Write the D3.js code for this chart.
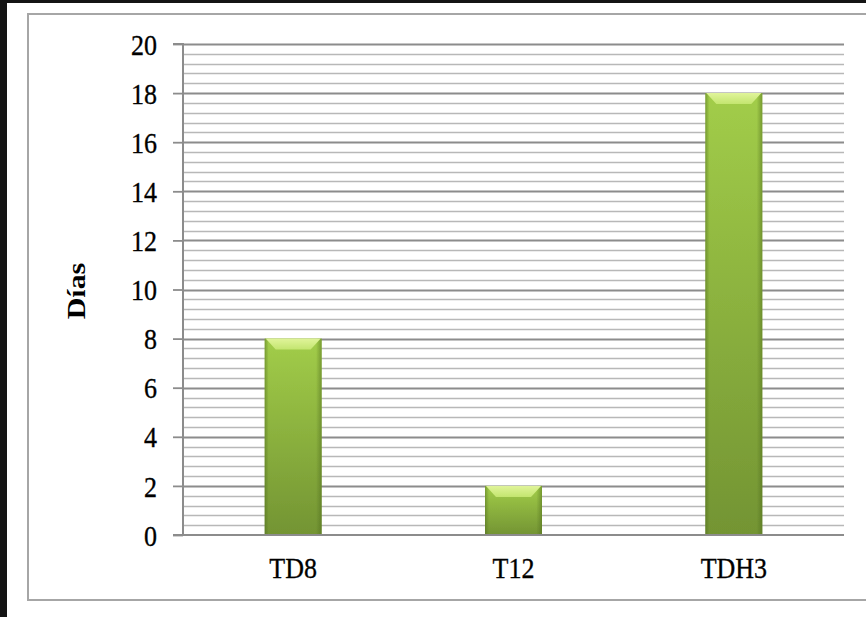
<!DOCTYPE html>
<html>
<head>
<meta charset="utf-8">
<script src="https://cdn.jsdelivr.net/npm/d3@7"></script>
<style>
  html, body { margin: 0; padding: 0; background: #141414; }
  svg { display: block; }
  text { font-family: "Liberation Serif", "Times New Roman", serif; fill: #000; }
</style>
</head>
<body>
<svg id="chart" width="866" height="617"></svg>
<script>
// Days per treatment
const categories = ["TD8", "T12", "TDH3"];
const values = [8, 2, 18];
const yTicks = [0, 2, 4, 6, 8, 10, 12, 14, 16, 18, 20];
const yLabel = "Días";

const W = 866, H = 617;
const plot = { left: 183, right: 844, top: 44, bottom: 535 };
const textStretch = 1.15;

const svg = d3.select("#chart");

// white page and chart frame
svg.append("rect").attr("x", 7).attr("y", 3).attr("width", W - 7).attr("height", H - 3).attr("fill", "#fff");
svg.append("rect").attr("x", 28).attr("y", 14).attr("width", W + 20).attr("height", 586)
  .attr("fill", "none").attr("stroke", "#a6a6a6").attr("stroke-width", 2);

const y = d3.scaleLinear().domain([0, 20]).range([plot.bottom, plot.top]);
const x = d3.scaleBand().domain(categories).range([plot.left, plot.right]).padding(0);
const barW = 57;

const defs = svg.append("defs");
const soft = defs.append("filter").attr("id", "soft").attr("x", "-5%").attr("y", "-5%").attr("width", "110%").attr("height", "110%");
soft.append("feGaussianBlur").attr("stdDeviation", 0.6);

const vg = defs.append("linearGradient").attr("id", "barBody").attr("x1", 0).attr("y1", 0).attr("x2", 0).attr("y2", 1);
vg.append("stop").attr("offset", "0%").attr("stop-color", "#a2cd49");
vg.append("stop").attr("offset", "100%").attr("stop-color", "#739433");

const hg = defs.append("linearGradient").attr("id", "barSides").attr("x1", 0).attr("y1", 0).attr("x2", 1).attr("y2", 0);
hg.append("stop").attr("offset", "0%").attr("stop-color", "#4d6a1c").attr("stop-opacity", 0.5);
hg.append("stop").attr("offset", "7%").attr("stop-color", "#4d6a1c").attr("stop-opacity", 0.0);
hg.append("stop").attr("offset", "90%").attr("stop-color", "#4d6a1c").attr("stop-opacity", 0.0);
hg.append("stop").attr("offset", "100%").attr("stop-color", "#4d6a1c").attr("stop-opacity", 0.5);

const bevelG = defs.append("linearGradient").attr("id", "bevel").attr("x1", 0).attr("y1", 0).attr("x2", 0).attr("y2", 1);
bevelG.append("stop").attr("offset", "0%").attr("stop-color", "#e0f49a");
bevelG.append("stop").attr("offset", "100%").attr("stop-color", "#c3e56f");

// gridlines: minor every 0.4, major every 2
const minor = d3.range(0, 20.0001, 0.4).filter(v => Math.abs(v / 2 - Math.round(v / 2)) > 1e-6);
const grid = svg.append("g").attr("filter", "url(#soft)");
grid.selectAll("line.minor").data(minor).join("line")
  .attr("class", "minor")
  .attr("x1", plot.left).attr("x2", plot.right)
  .attr("y1", d => Math.round(y(d)) + 0.5).attr("y2", d => Math.round(y(d)) + 0.5)
  .attr("stroke", "#b8b8b8").attr("stroke-width", 1.6);
grid.selectAll("line.major").data(yTicks.filter(d => d > 0)).join("line")
  .attr("class", "major")
  .attr("x1", plot.left).attr("x2", plot.right)
  .attr("y1", d => Math.round(y(d)) + 0.5).attr("y2", d => Math.round(y(d)) + 0.5)
  .attr("stroke", "#8c8c8c").attr("stroke-width", 1.8);

// bars with a bevelled top
const bars = svg.append("g").selectAll("g").data(categories.map((c, i) => ({ c, v: values[i] }))).join("g")
  .attr("filter", "url(#soft)");
bars.each(function (d) {
  const g = d3.select(this);
  const x0 = x(d.c) + x.bandwidth() / 2 - barW / 2;
  const x1 = x0 + barW;
  const top = y(d.v), bot = y(0);
  g.append("rect").attr("x", x0).attr("y", top).attr("width", barW).attr("height", bot - top).attr("fill", "url(#barBody)");
  g.append("rect").attr("x", x0).attr("y", top).attr("width", barW).attr("height", bot - top).attr("fill", "url(#barSides)");
  const b = 11;
  g.append("polygon")
    .attr("points", [[x0 + 1, top], [x1 - 1, top], [x1 - b, top + b], [x0 + b, top + b]].map(p => p.join(",")).join(" "))
    .attr("fill", "url(#bevel)");
});

// axes
const yAxis = d3.axisLeft(y).tickValues(yTicks).tickSize(10).tickPadding(16).tickFormat(d3.format("d"));
const ya = svg.append("g").attr("transform", `translate(${plot.left},0)`).call(yAxis);
ya.select(".domain").attr("stroke", "#8c8c8c").attr("stroke-width", 2).attr("d", `M-10,${plot.top}H0V${plot.bottom}H-10`);
ya.selectAll(".tick line").attr("stroke", "#8c8c8c").attr("stroke-width", 1.8);
ya.selectAll(".tick text")
  .attr("font-size", 26).attr("font-family", "Liberation Serif, serif").attr("fill", "#000")
  .attr("stroke", "#000").attr("stroke-width", 0.3)
  .attr("x", 0).attr("y", 0).attr("dy", null).attr("dominant-baseline", "central")
  .attr("transform", `translate(-26,0) scale(1,${textStretch})`);

const xAxis = d3.axisBottom(x).tickSize(0).tickPadding(0);
const xa = svg.append("g").attr("transform", `translate(0,${plot.bottom})`).call(xAxis);
xa.select(".domain").attr("stroke", "#8c8c8c").attr("stroke-width", 2).attr("d", `M${plot.left},0H${plot.right}`);
xa.selectAll(".tick text")
  .attr("font-size", 26).attr("font-family", "Liberation Serif, serif").attr("fill", "#000")
  .attr("stroke", "#000").attr("stroke-width", 0.3)
  .attr("y", 0).attr("dy", null).attr("dominant-baseline", "auto")
  .attr("transform", `translate(0,43) scale(1,${textStretch})`);

// y-axis title
svg.append("text")
  .attr("transform", `translate(85,291) rotate(-90) scale(${textStretch},1)`)
  .attr("text-anchor", "middle")
  .attr("font-size", 26).attr("font-weight", "bold")
  .text(yLabel);
</script>
</body>
</html>
